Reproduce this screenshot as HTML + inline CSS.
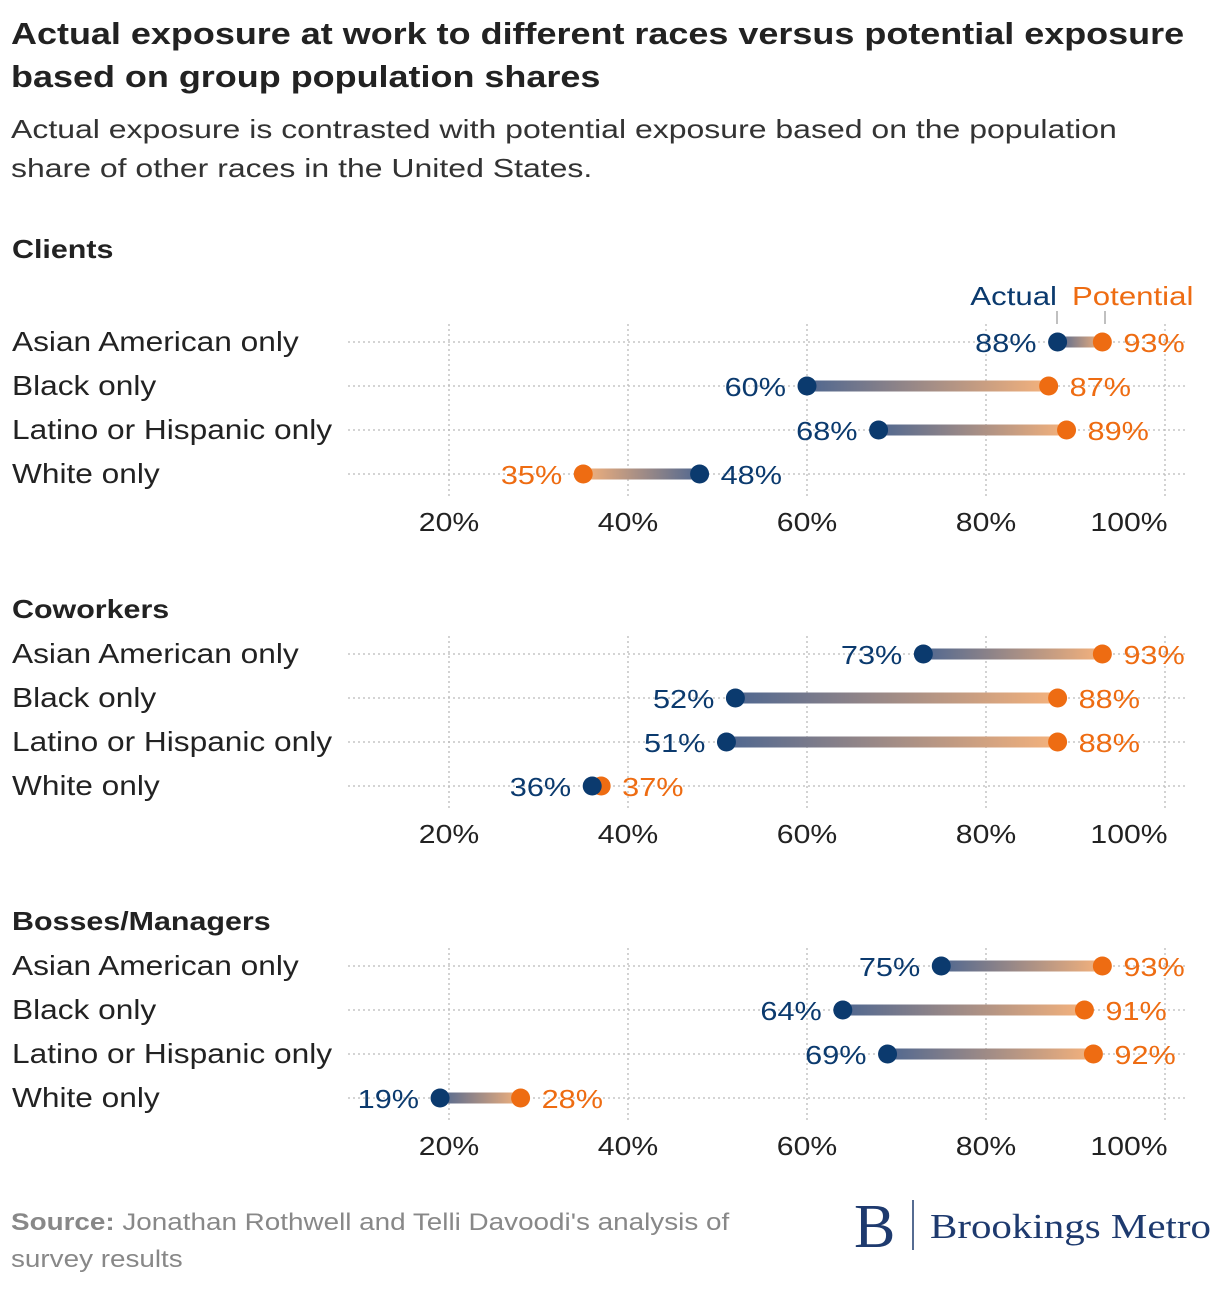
<!DOCTYPE html>
<html><head><meta charset="utf-8"><style>
body{margin:0;background:#fff;width:1220px;height:1288px;overflow:hidden;font-family:"Liberation Sans",sans-serif}
</style></head><body>
<svg width="1220" height="1288" xmlns="http://www.w3.org/2000/svg">
<defs>
<linearGradient id="gR" x1="0" x2="1" y1="0" y2="0"><stop offset="0" stop-color="#4f6790"/><stop offset="1" stop-color="#f5b27c"/></linearGradient>
<linearGradient id="gL" x1="1" x2="0" y1="0" y2="0"><stop offset="0" stop-color="#4f6790"/><stop offset="1" stop-color="#f5b27c"/></linearGradient>
</defs>
<text data-s="1.16" x="11" y="44" font-size="31" font-weight="bold" fill="#222">Actual exposure at work to different races versus potential exposure</text>
<text data-s="1.16" x="11" y="87" font-size="31" font-weight="bold" fill="#222">based on group population shares</text>
<text data-s="1.23" x="11" y="138" font-size="26" fill="#333">Actual exposure is contrasted with potential exposure based on the population</text>
<text data-s="1.23" x="11" y="177" font-size="26" fill="#333">share of other races in the United States.</text>
<text data-s="1.2" x="1057" y="305" font-size="26" fill="#0b3a6e" text-anchor="end">Actual</text>
<text data-s="1.2" x="1072" y="305" font-size="26" fill="#ee6c12">Potential</text>
<line x1="1057" x2="1057" y1="311" y2="324" stroke="#aaa" stroke-width="1.5"/>
<line x1="1105" x2="1105" y1="311" y2="324" stroke="#aaa" stroke-width="1.5"/>
<g id="panels"></g>
<text data-s="1.16" x="11" y="1230" font-size="24" fill="#888"><tspan font-weight="bold">Source:</tspan> Jonathan Rothwell and Telli Davoodi's analysis of</text>
<text data-s="1.16" x="11" y="1267" font-size="24" fill="#888">survey results</text>
<text x="854" y="1247" font-size="62" font-family="Liberation Serif,serif" fill="#1e3a6e">B</text>
<line x1="913" x2="913" y1="1200" y2="1250" stroke="#1e3a6e" stroke-width="1.5"/>
<text data-s="1.17" x="930" y="1238" font-size="35" font-family="Liberation Serif,serif" fill="#1e3a6e">Brookings Metro</text>
</svg>
<script>
const sections=["Clients","Coworkers","Bosses/Managers"];
const categories=["Asian American only","Black only","Latino or Hispanic only","White only"];
const actualClients=[88,60,68,48];
const potentialClients=[93,87,89,35];
const actualCoworkers=[73,52,51,36];
const potentialCoworkers=[93,88,88,37];
const actualBosses=[75,64,69,19];
const potentialBosses=[93,91,92,28];
const ticks=[20,40,60,80,100];
const actuals=[actualClients,actualCoworkers,actualBosses];
const potentials=[potentialClients,potentialCoworkers,potentialBosses];
const NS="http://www.w3.org/2000/svg";
const g=document.getElementById('panels');
function x(v){return 449+(v-20)*8.95;}
function mk(tag,a,txt){const e=document.createElementNS(NS,tag);for(const k in a)e.setAttribute(k,a[k]);if(txt!=null)e.textContent=txt;g.appendChild(e);return e;}
const tops=[248,608,920];
sections.forEach((s,si)=>{
  const t=tops[si];
  const h=mk('text',{x:12,y:t+10,'font-size':26,'font-weight':'bold',fill:'#222','data-s':1.17},s);
  
  
  const rowY=i=>t+(si==0?94:46)+i*44;
  ticks.forEach(v=>{
    const l=mk('line',{x1:x(v),x2:x(v),y1:rowY(0)-18,y2:rowY(3)+22,stroke:'#bbb','stroke-width':1.3,'stroke-dasharray':'2,3'});
    
    
    const tl=mk('text',{x:v==100?x(v)-36:x(v),y:rowY(3)+57,'font-size':26,fill:'#222','text-anchor':'middle','data-s':1.16},v+'%');
    
    
  });
  categories.forEach((c,i)=>{
    const y=rowY(i);
    const lab=mk('text',{x:12,y:y+9,'font-size':28,fill:'#222','data-s':1.13},c);
    
    
    const gl=mk('line',{x1:348,x2:1186,y1:y,y2:y,stroke:'#bbb','stroke-width':1.3,'stroke-dasharray':'2,3'});
    
    
    const a=actuals[si][i],p=potentials[si][i];
    const xa=x(a),xp=x(p);
    const bar=mk('rect',{x:Math.min(xa,xp),y:y-5.5,width:Math.abs(xp-xa)+0.01,height:11,fill:p>=a?'url(#gR)':'url(#gL)'});
    
    
    const dp=mk('circle',{cx:xp,cy:y,r:9.5,fill:'#ee6c12'});
    
    
    const da=mk('circle',{cx:xa,cy:y,r:9.5,fill:'#0b3a6e'});
    
    
    const aLeft=a<=p;
    const la=mk('text',{x:aLeft?xa-21:xa+21,y:y+10,'font-size':26,fill:'#0b3a6e','text-anchor':aLeft?'end':'start','data-s':1.18},a+'%');
    
    
    const lp=mk('text',{x:aLeft?xp+21:xp-21,y:y+10,'font-size':26,fill:'#ee6c12','text-anchor':aLeft?'start':'end','data-s':1.18},p+'%');
    
    
  });
});
document.querySelectorAll('text[data-s]').forEach(el=>{
  const f=parseFloat(el.getAttribute('data-s'));
  const w=el.getComputedTextLength();
  el.setAttribute('textLength',(w*f).toFixed(1));
  el.setAttribute('lengthAdjust','spacingAndGlyphs');
});
</script>
</body></html>
